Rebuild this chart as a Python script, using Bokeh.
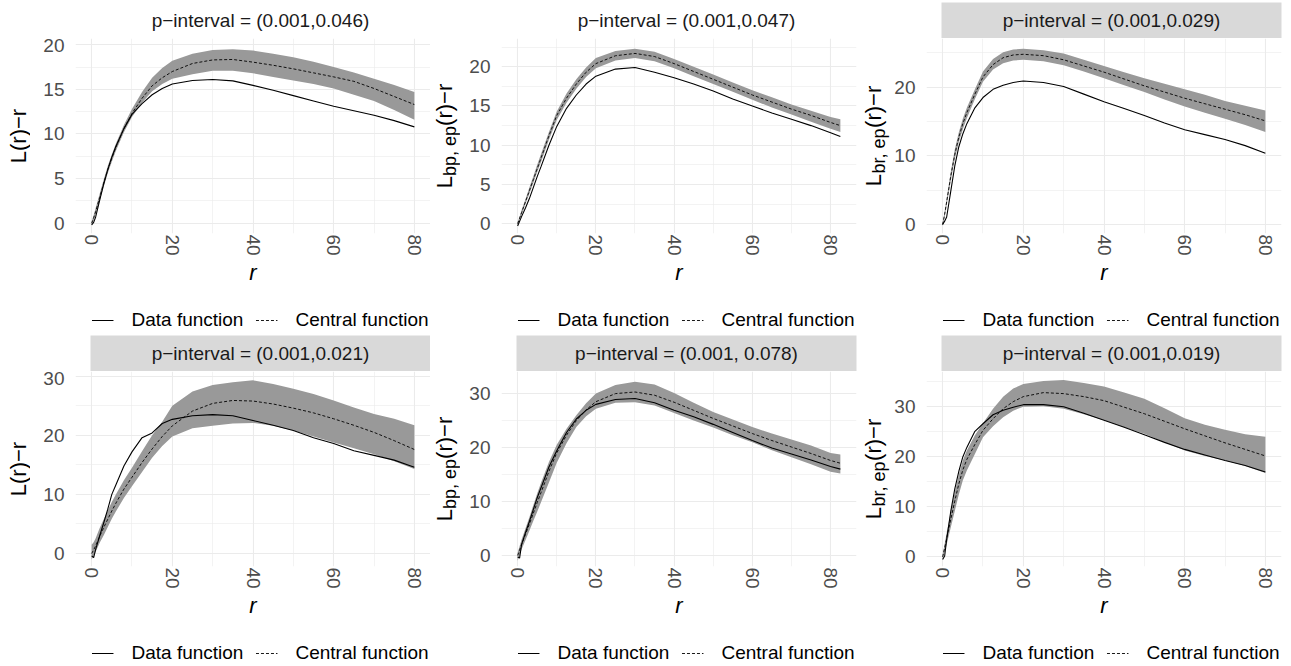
import math
from bokeh.plotting import figure
from bokeh.layouts import column, row
from bokeh.models import Range1d, FixedTicker, Legend, LegendItem
from bokeh.embed import file_html
from bokeh.resources import INLINE
from bokeh.core.properties import value

# ---------------- data ----------------
R_A = [0, 0.5, 1, 2, 3, 4, 5, 6, 8, 10, 12.5, 15, 17.5, 20, 25, 30, 35, 40, 45, 50, 55, 60, 65, 70, 75, 80]
R_B = R_A + [82.5]

TITLES = [
    "p\u2212interval = (0.001,0.046)",
    "p\u2212interval = (0.001,0.047)",
    "p\u2212interval = (0.001,0.029)",
    "p\u2212interval = (0.001,0.021)",
    "p\u2212interval = (0.001, 0.078)",
    "p\u2212interval = (0.001,0.019)",
]
YLAB_SUB = [None, "bp, ep", "br, ep", None, "bp, ep", "br, ep"]
X_TICKS = [0, 20, 40, 60, 80]
X_MINOR = [10, 30, 50, 70]
LEGEND_LABELS = ["Data function", "Central function"]

# panel 1 : L(r)-r
P1_DATA = [-0.2, 0.1, 0.7, 2.6, 4.4, 6.0, 7.4, 8.6, 10.6, 12.2, 13.4, 14.4, 15.1, 15.6, 16.0, 16.1, 15.95, 15.45, 14.9, 14.3, 13.7, 13.1, 12.6, 12.1, 11.5, 10.8]
P1_CENT = [0, 0.6, 1.3, 2.9, 4.5, 6.0, 7.3, 8.5, 10.6, 12.3, 14.0, 15.4, 16.3, 17.0, 17.9, 18.3, 18.35, 18.05, 17.7, 17.3, 16.85, 16.4, 15.9, 15.1, 14.2, 13.3]
P1_HI = [0.2, 0.9, 1.7, 3.3, 4.9, 6.4, 7.7, 8.9, 11.0, 12.8, 14.7, 16.3, 17.4, 18.2, 19.0, 19.4, 19.5, 19.35, 19.0, 18.6, 18.1, 17.5, 16.9, 16.2, 15.5, 14.7]
P1_LO = [-0.2, 0.3, 1.0, 2.5, 4.1, 5.6, 6.9, 8.1, 10.2, 11.9, 13.5, 14.8, 15.6, 16.2, 16.7, 17.1, 17.1, 16.8, 16.4, 16.0, 15.6, 15.1, 14.4, 13.7, 12.7, 11.6]

# panel 2 : L_bp,ep(r)-r
P2_DATA = [-0.3, 0.3, 0.9, 2.0, 3.2, 4.6, 6.0, 7.3, 10.0, 12.4, 14.7, 16.4, 17.8, 18.8, 19.7, 19.9, 19.3, 18.6, 17.8, 16.9, 15.9, 15.0, 14.1, 13.3, 12.5, 11.6, 11.1]
P2_CENT = [0, 0.7, 1.4, 2.8, 4.2, 5.6, 7.0, 8.4, 11.2, 13.8, 16.0, 17.8, 19.3, 20.4, 21.4, 21.7, 21.3, 20.4, 19.4, 18.4, 17.4, 16.4, 15.5, 14.6, 13.8, 12.9, 12.5]
P2_HI = [0.2, 0.9, 1.7, 3.1, 4.6, 6.0, 7.5, 8.9, 11.7, 14.3, 16.6, 18.4, 19.9, 21.1, 22.0, 22.3, 21.9, 21.0, 20.0, 19.0, 18.0, 17.0, 16.1, 15.2, 14.4, 13.6, 13.3]
P2_LO = [-0.2, 0.5, 1.1, 2.5, 3.8, 5.2, 6.6, 7.9, 10.7, 13.2, 15.4, 17.2, 18.7, 19.8, 20.8, 21.1, 20.7, 19.8, 18.8, 17.8, 16.8, 15.8, 14.8, 13.9, 13.0, 12.1, 11.7]

# panel 3 : L_br,ep(r)-r
P3_DATA = [0, 0.5, 1.1, 4.8, 8.5, 11.3, 13.2, 14.7, 17.0, 18.5, 19.7, 20.3, 20.7, 20.9, 20.7, 20.1, 19.0, 17.9, 16.9, 15.9, 14.8, 13.8, 13.1, 12.4, 11.5, 10.4]
P3_CENT = [0, 1.5, 3.3, 7.0, 10.2, 12.7, 14.7, 16.3, 19.0, 21.5, 23.3, 24.3, 24.7, 24.8, 24.6, 24.0, 23.1, 22.2, 21.2, 20.2, 19.3, 18.4, 17.6, 16.8, 16.0, 15.1]
P3_HI = [0.3, 1.9, 3.8, 7.6, 10.9, 13.4, 15.4, 17.0, 19.7, 22.3, 24.1, 25.1, 25.5, 25.6, 25.4, 24.9, 24.0, 23.1, 22.2, 21.3, 20.5, 19.7, 18.9, 18.0, 17.3, 16.6]
P3_LO = [-0.2, 1.1, 2.8, 6.3, 9.5, 12.0, 13.9, 15.5, 18.3, 20.8, 22.6, 23.5, 23.9, 24.0, 23.8, 23.2, 22.3, 21.3, 20.3, 19.3, 18.2, 17.2, 16.3, 15.4, 14.5, 13.5]

# panel 4 : L(r)-r
P4_DATA = [-0.4, -0.7, 0.7, 3.0, 5.2, 7.5, 10.0, 11.6, 14.8, 17.2, 19.6, 20.4, 22.0, 22.7, 23.3, 23.5, 23.3, 22.5, 21.7, 20.8, 19.6, 18.6, 17.4, 16.6, 15.8, 14.6]
P4_CENT = [0, 0.6, 1.3, 2.9, 4.4, 5.8, 7.2, 8.5, 10.9, 12.9, 15.4, 17.7, 19.8, 21.6, 24.1, 25.4, 25.9, 25.8, 25.3, 24.6, 23.8, 22.8, 21.7, 20.5, 19.1, 17.6]
P4_HI = [1.5, 1.9, 2.6, 4.3, 5.8, 7.3, 8.7, 10.0, 12.4, 14.5, 17.3, 20.0, 22.3, 25.0, 27.4, 28.5, 29.0, 29.3, 28.7, 27.9, 27.0, 25.9, 24.7, 23.6, 22.8, 21.7]
P4_LO = [-1.0, -0.4, 0.3, 1.8, 3.1, 4.5, 5.9, 7.1, 9.4, 11.4, 13.8, 16.2, 18.2, 19.8, 21.2, 21.6, 22.0, 22.1, 21.6, 20.8, 19.8, 18.8, 17.8, 16.8, 15.6, 14.3]

# panel 5 : L_bp,ep(r)-r
P5_DATA = [-0.3, -0.5, 2.0, 4.2, 6.3, 8.5, 10.7, 12.6, 16.4, 19.4, 22.8, 25.3, 26.9, 28.0, 28.9, 29.1, 28.3, 26.9, 25.7, 24.3, 22.8, 21.3, 19.9, 18.8, 17.7, 16.5, 16.0]
P5_CENT = [0, 1.0, 2.0, 3.9, 5.8, 7.8, 9.8, 11.7, 15.6, 19.0, 22.3, 25.0, 27.0, 28.5, 30.0, 30.3, 29.7, 28.4, 26.9, 25.4, 24.0, 22.6, 21.3, 20.1, 18.9, 17.6, 17.1]
P5_HI = [0.5, 1.7, 2.9, 5.0, 7.1, 9.3, 11.5, 13.5, 17.3, 20.5, 23.5, 26.0, 28.2, 30.0, 31.6, 32.2, 31.7, 30.1, 28.3, 26.6, 25.2, 23.8, 22.6, 21.5, 20.4, 19.0, 18.7]
P5_LO = [-1.0, 0.0, 1.1, 2.8, 4.6, 6.4, 8.1, 9.9, 13.5, 17.2, 20.8, 23.8, 25.8, 27.2, 28.3, 28.4, 27.8, 26.4, 25.0, 23.7, 22.3, 21.0, 19.5, 18.2, 16.9, 15.5, 15.2]

# panel 6 : L_br,ep(r)-r
P6_DATA = [-0.5, 0.2, 3.5, 9.0, 13.5, 17.0, 19.9, 21.8, 25.0, 26.5, 28.3, 29.2, 29.8, 30.3, 30.3, 29.9, 28.6, 27.2, 25.8, 24.3, 22.8, 21.4, 20.3, 19.2, 18.2, 16.9]
P6_CENT = [0, 1.8, 3.7, 7.4, 11.1, 14.5, 17.3, 19.4, 22.4, 25.2, 27.5, 29.5, 30.9, 31.9, 32.7, 32.5, 31.9, 31.1, 29.8, 28.5, 27.0, 25.5, 24.1, 22.7, 21.4, 20.1]
P6_HI = [0.5, 2.6, 4.8, 8.9, 12.8, 16.3, 19.2, 21.2, 24.2, 26.6, 29.5, 31.9, 33.5, 34.4, 35.0, 35.2, 34.6, 33.9, 32.7, 31.5, 29.6, 27.6, 26.3, 25.3, 24.4, 23.9]
P6_LO = [-0.5, 1.0, 2.5, 5.8, 9.1, 12.4, 15.2, 17.2, 20.5, 23.8, 26.0, 27.8, 29.1, 29.9, 30.0, 29.5, 28.4, 27.2, 25.8, 24.5, 22.8, 21.2, 20.1, 19.2, 18.1, 16.7]

PANELS = [
    (R_A, P1_DATA, P1_CENT, P1_LO, P1_HI),
    (R_B, P2_DATA, P2_CENT, P2_LO, P2_HI),
    (R_A, P3_DATA, P3_CENT, P3_LO, P3_HI),
    (R_A, P4_DATA, P4_CENT, P4_LO, P4_HI),
    (R_B, P5_DATA, P5_CENT, P5_LO, P5_HI),
    (R_A, P6_DATA, P6_CENT, P6_LO, P6_HI),
]

# ---------------- axis settings ----------------
Y_LIMITS = [(-1.15, 20.7), (-1.25, 23.6), (-1.3, 27.1), (-2.2, 30.8), (-2.05, 34.1), (-1.9, 36.9)]
Y_MAJOR = [[0, 5, 10, 15, 20], [0, 5, 10, 15, 20], [0, 10, 20], [0, 10, 20, 30], [0, 10, 20, 30], [0, 10, 20, 30]]
Y_MINOR = [[2.5, 7.5, 12.5, 17.5], [2.5, 7.5, 12.5, 17.5, 22.5], [5, 15, 25], [5, 15, 25], [5, 15, 25], [5, 15, 25, 35]]
STRIP_FILL = ["white", "white", "#d9d9d9", "#d9d9d9", "#d9d9d9", "#d9d9d9"]

# ---------------- layout / style ----------------
FONT = "Liberation Sans"
CELL_W = [430, 430, 431]
BORDER_L = [75, 71, 66]
BORDER_R = [0, 4, 10]
YLAB_W = 30
YLAB_CX = [18, 13.5, 12.5]
ROW_H = 333
STRIP_H = 38
STRIP_PAD = 2
FRAME_H = 195
LEG_H = 26
MAIN_H = ROW_H - STRIP_H - LEG_H
AXIS_H = MAIN_H - FRAME_H
GRID_C = "#ebebeb"
BAND_C = "#999999"
TICK_C = "#4d4d4d"
DATA_STYLE = dict(line_color="black", line_width=1.1)
CENT_STYLE = dict(line_color="black", line_width=0.9, line_dash="3 2")

EM = {"L": 0.556, "b": 0.556, "p": 0.556, "r": 0.333, ",": 0.278, " ": 0.278,
      "e": 0.556, "(": 0.333, ")": 0.333, "\u2212": 0.584}


def tw(s, size):
    return sum(EM.get(c, 0.556) for c in s) * size


def blank(width, height, bl=0, br=0, bt=0, bb=0, fill="white", xr=(0, 1), yr=(0, 1)):
    return figure(width=width, height=height, x_range=Range1d(*xr), y_range=Range1d(*yr),
                  toolbar_location=None, output_backend="svg",
                  x_axis_type=None, y_axis_type=None,
                  min_border_left=bl, min_border_right=br, min_border_top=bt, min_border_bottom=bb,
                  background_fill_color=fill, border_fill_color="white",
                  outline_line_color=None)


def make_cell(i):
    c = i % 3
    W, BL, BR = CELL_W[c], BORDER_L[c], BORDER_R[c]

    # strip with panel title
    s = blank(W, STRIP_H, BL, BR, STRIP_PAD, 0, STRIP_FILL[i])
    s.text(x=[0.5], y=[0.5], text=[TITLES[i]], text_align="center", text_baseline="middle",
           text_font=value(FONT), text_font_size="19px", text_color="#1a1a1a")

    # y-axis title column: its frame is aligned with the panel frame (pixel coordinates)
    yl = blank(YLAB_W, MAIN_H, bb=AXIS_H, xr=(0, YLAB_W), yr=(0, FRAME_H))
    cx = YLAB_CX[c]
    yc = FRAME_H / 2
    if YLAB_SUB[i] is None:
        pieces = [("L(r)\u2212r", yc, cx, "22px")]
    else:
        sub = YLAB_SUB[i]
        wl, ws, wr = tw("L", 22), tw(sub, 18), tw("(r)\u2212r", 22)
        y0 = yc - (wl + ws + wr) / 2
        pieces = [("L", y0 + wl / 2, cx, "22px"),
                  (sub, y0 + wl + ws / 2, cx + 5.5, "18px"),
                  ("(r)\u2212r", y0 + wl + ws + wr / 2, cx, "22px")]
    for txt, yy, xx, fs in pieces:
        yl.text(x=[xx], y=[yy], text=[txt], angle=math.pi / 2, text_align="center",
                text_baseline="middle", text_font=value(FONT), text_font_size=fs,
                text_color="black")

    # main panel
    r, dat, cen, lo, hi = PANELS[i]
    rmax = max(r)
    p = figure(width=W - YLAB_W, height=MAIN_H, toolbar_location=None, output_backend="svg",
               x_range=Range1d(-0.05 * rmax, 1.05 * rmax), y_range=Range1d(*Y_LIMITS[i]),
               min_border_left=BL - YLAB_W, min_border_right=BR, min_border_top=0,
               min_border_bottom=AXIS_H,
               background_fill_color="white", border_fill_color="white", outline_line_color=None)
    p.varea(x=r, y1=lo, y2=hi, fill_color=BAND_C, fill_alpha=1.0)
    p.line(r, dat, **DATA_STYLE)
    p.line(r, cen, **CENT_STYLE)

    p.xaxis.ticker = FixedTicker(ticks=X_TICKS, minor_ticks=X_MINOR)
    p.yaxis.ticker = FixedTicker(ticks=Y_MAJOR[i], minor_ticks=Y_MINOR[i])
    for ax in (p.xaxis, p.yaxis):
        ax.axis_line_color = None
        ax.major_tick_line_color = None
        ax.minor_tick_line_color = None
        ax.major_tick_out = 0
        ax.major_tick_in = 0
        ax.minor_tick_out = 0
        ax.minor_tick_in = 0
        ax.major_label_text_font = FONT
        ax.major_label_text_font_size = "19px"
        ax.major_label_text_color = TICK_C
    p.xaxis.major_label_orientation = -math.pi / 2
    p.xaxis.major_label_standoff = 1
    p.yaxis.major_label_standoff = 11
    p.xaxis.axis_label = "r"
    p.xaxis.axis_label_text_font = FONT
    p.xaxis.axis_label_text_font_style = "italic"
    p.xaxis.axis_label_text_font_size = "22px"
    p.xaxis.axis_label_text_color = "black"
    p.xaxis.axis_label_standoff = 1

    for g in (p.xgrid, p.ygrid):
        g.grid_line_color = GRID_C
        g.grid_line_width = 1.1
        g.minor_grid_line_color = GRID_C
        g.minor_grid_line_width = 0.6

    # legend strip: key renderers share the panel's series and styles but lie outside its view
    lf = blank(W, LEG_H, BL + 15, BR, yr=(-1000, -999))
    k_data = lf.line(r, dat, **DATA_STYLE)
    k_cen = lf.line(r, cen, **CENT_STYLE)
    legend = Legend(items=[LegendItem(label=LEGEND_LABELS[0], renderers=[k_data]),
                           LegendItem(label=LEGEND_LABELS[1], renderers=[k_cen])],
                    orientation="horizontal", location="center",
                    glyph_width=22, glyph_height=20, label_height=20, label_standoff=18,
                    spacing=12, padding=0, margin=0, border_line_color=None,
                    background_fill_alpha=0, label_text_font=FONT, label_text_font_size="19px",
                    label_text_color="black")
    lf.add_layout(legend, "center")

    return column(s, row(yl, p), lf)


cells = [make_cell(i) for i in range(6)]
layout = column(row(*cells[:3]), row(*cells[3:]))

open("out.html", "w").write(file_html(layout, INLINE))
